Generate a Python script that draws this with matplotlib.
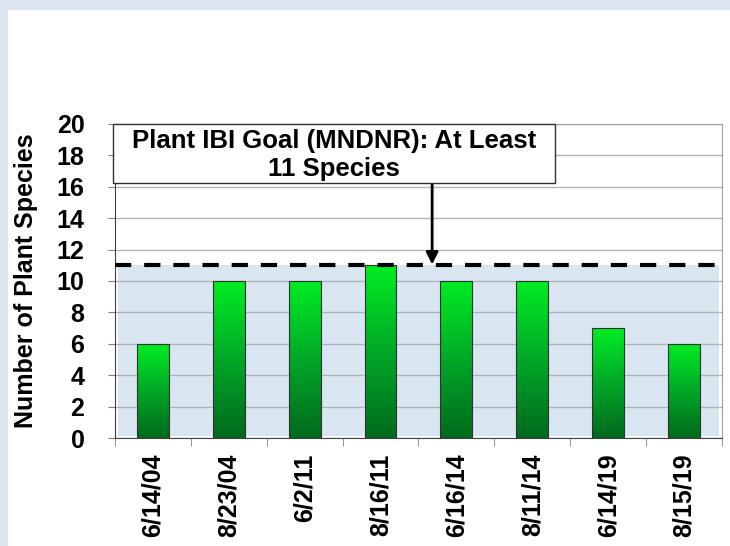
import numpy as np
import matplotlib.pyplot as plt
from matplotlib.patches import Rectangle
from matplotlib.colors import LinearSegmentedColormap

# Data
dates = ['6/14/04', '8/23/04', '6/2/11', '8/16/11', '6/16/14', '8/11/14', '6/14/19', '8/15/19']
species = [6, 10, 10, 11, 10, 10, 7, 6]
goal = 11
goal_text = 'Plant IBI Goal (MNDNR): At Least\n11 Species'

plt.rcParams['font.family'] = ['Liberation Sans', 'DejaVu Sans']
plt.rcParams['font.weight'] = 'bold'
FS = 18

fig = plt.figure(figsize=(7.3, 5.46), dpi=100)
fig.patch.set_facecolor('#dce6f1')
fig.add_artist(Rectangle((8 / 730, 0), 1, 1 - 10 / 546, transform=fig.transFigure,
                         facecolor='white', edgecolor='none', zorder=-10))

ax = fig.add_axes([0.1575, 0.1978, 0.8315, 0.5751])
ax.set_zorder(1)
ax.set_facecolor('none')

x = np.arange(len(dates))

# shaded goal region
ax.add_patch(Rectangle((-0.46, 0.1), len(dates) - 0.08, goal - 0.1,
                       facecolor='#d9e6f2', edgecolor='none', zorder=0.5))

# gridlines
ax.set_yticks(range(0, 21, 2))
ax.yaxis.grid(True, color='#b0b4b8', lw=1.0, zorder=0.6)
ax.set_axisbelow(True)

# gradient bars
cmap = LinearSegmentedColormap.from_list('g', ['#006a1c', '#00a828', '#00ee22'])
grad = np.linspace(0, 1, 256).reshape(-1, 1)
bars = ax.bar(x, species, width=0.42, facecolor='none', edgecolor='#303030', lw=0.8, zorder=3)
for b in bars:
    bx, by, bw, bh = b.get_x(), b.get_y(), b.get_width(), b.get_height()
    im = ax.imshow(grad, cmap=cmap, origin='lower', aspect='auto',
                   extent=[bx, bx + bw, by, by + bh], zorder=2)
    im.set_clip_path(b)
ax.set_xlim(-0.5, len(dates) - 0.5)
ax.set_ylim(0, 20)

# goal line
ax.plot([-0.5, len(dates) - 0.55], [goal, goal], color='black', lw=3,
        dashes=(3.9, 3.1), zorder=4)

# annotation box, text and arrow
ax.add_patch(Rectangle((-0.52, 16.25), 5.82, 3.75, facecolor='white', edgecolor='#303030',
                       lw=1, zorder=6, clip_on=False))
ax.text(2.39, 18.05, goal_text, ha='center', va='center', fontsize=18.5, fontweight='bold',
        linespacing=1.2, zorder=7)
ax.annotate('', xy=(3.68, goal + 0.05), xytext=(3.68, 16.25),
            arrowprops=dict(arrowstyle='-|>', color='black', lw=2, mutation_scale=18,
                            shrinkA=0, shrinkB=0), zorder=5)

# axes styling
for s in ['top', 'right']:
    ax.spines[s].set_color('#a0a0a0')
ax.spines['left'].set_color('#404040')
ax.spines['bottom'].set_color('#404040')
ax.set_xticks(x)
ax.set_xticklabels(dates, rotation=90, fontsize=FS, fontweight='bold')
ax.set_xticks(np.arange(-0.5, len(dates)), minor=True)
ax.tick_params(axis='x', which='major', length=0, pad=11)
ax.tick_params(axis='x', which='minor', length=6, color='#808080')
ax.tick_params(axis='y', length=5, color='#808080', labelsize=FS, pad=17)
for lbl in ax.get_yticklabels():
    lbl.set_fontweight('bold')
ax.set_ylabel('Number of Plant Species', fontsize=FS, fontweight='bold', labelpad=13)

fig.savefig('out.png', dpi=100)
